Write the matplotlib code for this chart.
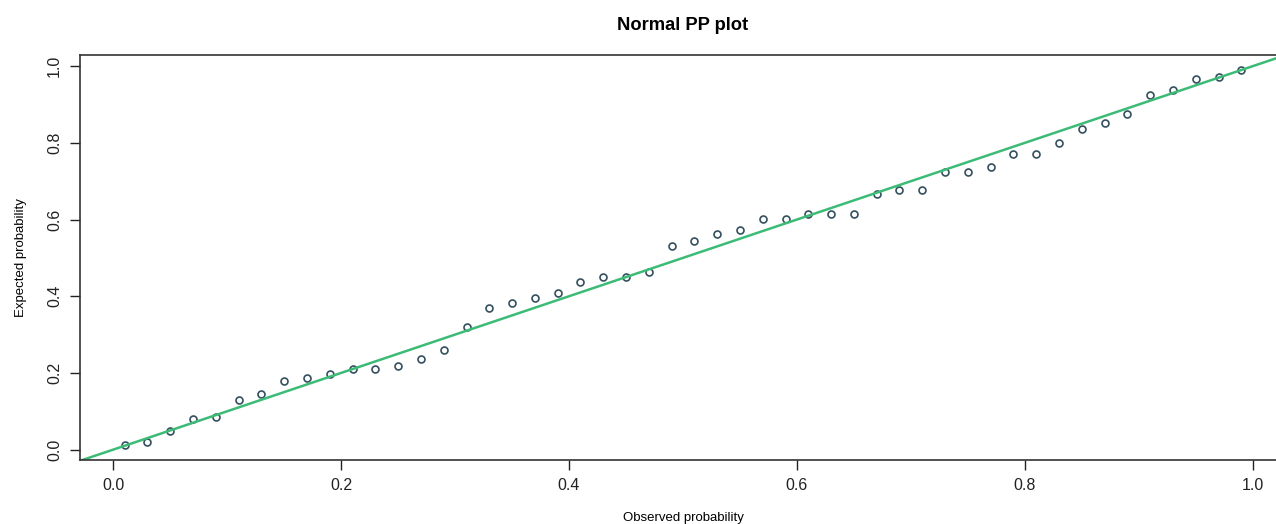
import matplotlib.pyplot as plt
import numpy as np

# Observed (empirical) probabilities and expected normal probabilities
observed = [0.01, 0.03, 0.05, 0.07, 0.09, 0.11, 0.13, 0.15, 0.17, 0.19,
            0.21, 0.23, 0.25, 0.27, 0.29, 0.31, 0.33, 0.35, 0.37, 0.39,
            0.41, 0.43, 0.45, 0.47, 0.49, 0.51, 0.53, 0.55, 0.57, 0.59,
            0.61, 0.63, 0.65, 0.67, 0.69, 0.71, 0.73, 0.75, 0.77, 0.79,
            0.81, 0.83, 0.85, 0.87, 0.89, 0.91, 0.93, 0.95, 0.97, 0.99]
expected = [0.012, 0.019, 0.048, 0.081, 0.086, 0.130, 0.146, 0.179, 0.188, 0.198,
            0.209, 0.209, 0.217, 0.237, 0.260, 0.320, 0.369, 0.382, 0.396, 0.409,
            0.436, 0.450, 0.450, 0.463, 0.531, 0.545, 0.561, 0.574, 0.601, 0.601,
            0.615, 0.615, 0.615, 0.666, 0.677, 0.677, 0.725, 0.725, 0.736, 0.770,
            0.770, 0.799, 0.837, 0.853, 0.876, 0.924, 0.938, 0.967, 0.971, 0.990]
ticks = [0.0, 0.2, 0.4, 0.6, 0.8, 1.0]

plt.rcParams['font.family'] = ['Liberation Sans', 'DejaVu Sans']

W, H = 1276, 524
fig = plt.figure(figsize=(W / 100, H / 100), dpi=100)
# axes box: left 80px, right ~1286px (cut by image edge), top 55px, bottom 460px
ax = fig.add_axes([80 / W, (H - 460) / H, (1286 - 80) / W, (460 - 55) / H])

ax.plot(observed, expected, linestyle='none', marker='o', markersize=5,
        markerfacecolor='none', markeredgecolor='#34505f', markeredgewidth=1.2)
ax.axline((0, 0), slope=1, color='#3cbb77', linewidth=1.8)

# R-style 4% padding around data range
xr = max(observed) - min(observed)
yr = max(expected) - min(expected)
ax.set_xlim(min(observed) - 0.04 * xr, max(observed) + 0.04 * xr)
ax.set_ylim(min(expected) - 0.04 * yr, max(expected) + 0.04 * yr)

ax.set_xticks(ticks)
ax.set_yticks(ticks)
ax.set_xticklabels([f"{t:.1f}" for t in ticks])
ax.set_yticklabels([f"{t:.1f}" for t in ticks], rotation=90, va='center')
ax.tick_params(direction='out', length=7, width=1, labelsize=11.5,
               colors='#222222', pad=6)
for s in ax.spines.values():
    s.set_color('#333333')
    s.set_linewidth(1.2)

ax.set_title('Normal PP plot', fontsize=13.2, fontweight='bold', pad=18)
ax.set_xlabel('Observed probability', fontsize=9.5, labelpad=14)
ax.set_ylabel('Expected probability', fontsize=9.5, labelpad=14)

fig.savefig('out.png', dpi=100)
